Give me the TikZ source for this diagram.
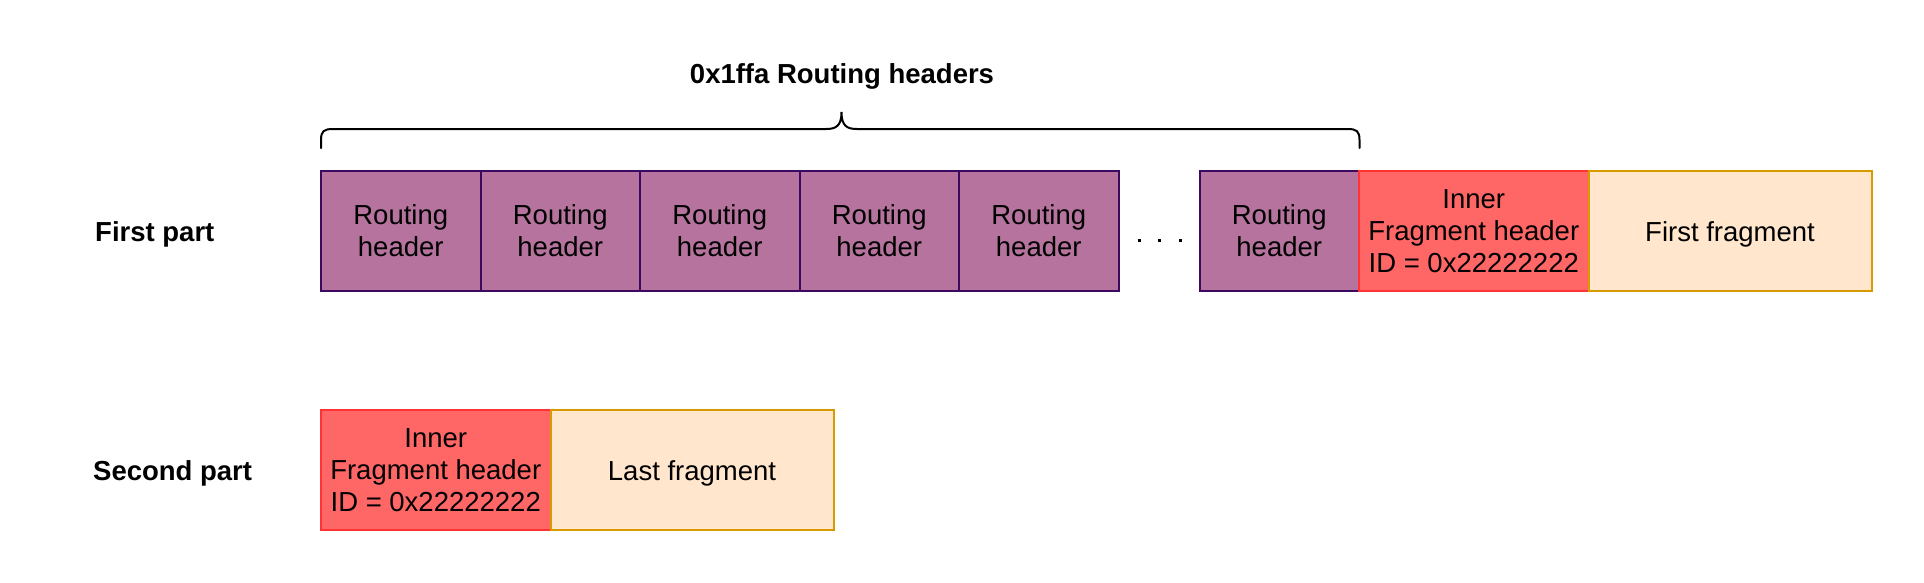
\documentclass[tikz,border=0pt]{standalone}
\usepackage{fontspec}
\setmainfont{Liberation Sans}
\definecolor{rfill}{HTML}{B5739D}
\definecolor{rline}{HTML}{3B0A60}
\definecolor{ffill}{HTML}{FF6666}
\definecolor{fline}{HTML}{FF3333}
\definecolor{yfill}{HTML}{FFE6CC}
\definecolor{yline}{HTML}{D79B00}
\tikzset{
  cell/.style={draw, line width=2pt, inner sep=0pt, outer sep=0pt, align=center,
    font=\fontsize{27.5}{32}\selectfont},
  routing/.style={cell, fill=rfill, draw=rline, minimum width=159.5pt, minimum height=120pt},
  frag/.style={cell, fill=ffill, draw=fline, minimum width=229.5pt, minimum height=120pt},
  data/.style={cell, fill=yfill, draw=yline, minimum width=283pt, minimum height=120pt,
    text height=21.5pt, text depth=0pt},
  lbl/.style={font=\bfseries\fontsize{27.5}{32}\selectfont, inner sep=0pt},
}
\begin{document}
\begin{tikzpicture}[x=1pt,y=-1pt]
\useasboundingbox (0,0) rectangle (1924,582);
% first row
\node[routing, anchor=north west] (r1) at (321,171) {Routing\\header};
\node[routing, anchor=west] (r2) at (r1.east) {Routing\\header};
\node[routing, anchor=west] (r3) at (r2.east) {Routing\\header};
\node[routing, anchor=west] (r4) at (r3.east) {Routing\\header};
\node[routing, anchor=west] (r5) at (r4.east) {Routing\\header};
\node[routing, anchor=north west] (r6) at (1199.5,171) {Routing\\header};
\node[frag, anchor=west] (f1) at (r6.east) {Inner\\Fragment header\\ID = 0x22222222};
\node[data, anchor=west] (d1) at (f1.east) {First fragment};
% dots
\node[inner sep=0pt] (dots) at (1159.5,240) {%
  \tikz[x=1pt,y=1pt]{\foreach \i in {0,20.5,41}{\fill (\i,0) rectangle ++(3,3);}}};
% second row
\node[frag, anchor=north west] (f2) at (321,410) {Inner\\Fragment header\\ID = 0x22222222};
\node[data, anchor=west] (d2) at (f2.east) {Last fragment};
% labels
\node[lbl, anchor=west] (p1) at (95,234.2) {First part};
\node[lbl, anchor=west] (p2) at (93,473.2) {Second part};
% brace
\coordinate (bl) at (321,148);
\coordinate (br) at (1359.5,148);
\coordinate (bt) at (841.5,112);
\draw[line width=2pt, line cap=round]
  (bl) -- ++(0,-8) .. controls (321,131) and (324,129) .. (333,129)
  -- (826,129) .. controls (836,129) and (841.5,126) .. (bt)
  .. controls (841.5,126) and (847,129) .. (857,129)
  -- (1347.5,129) .. controls (1356.5,129) and (1359.5,131) .. (1359.5,140) -- (br);
\node[lbl] (title) at (842,76.5) {0x1ffa Routing headers};
\end{tikzpicture}
\end{document}
